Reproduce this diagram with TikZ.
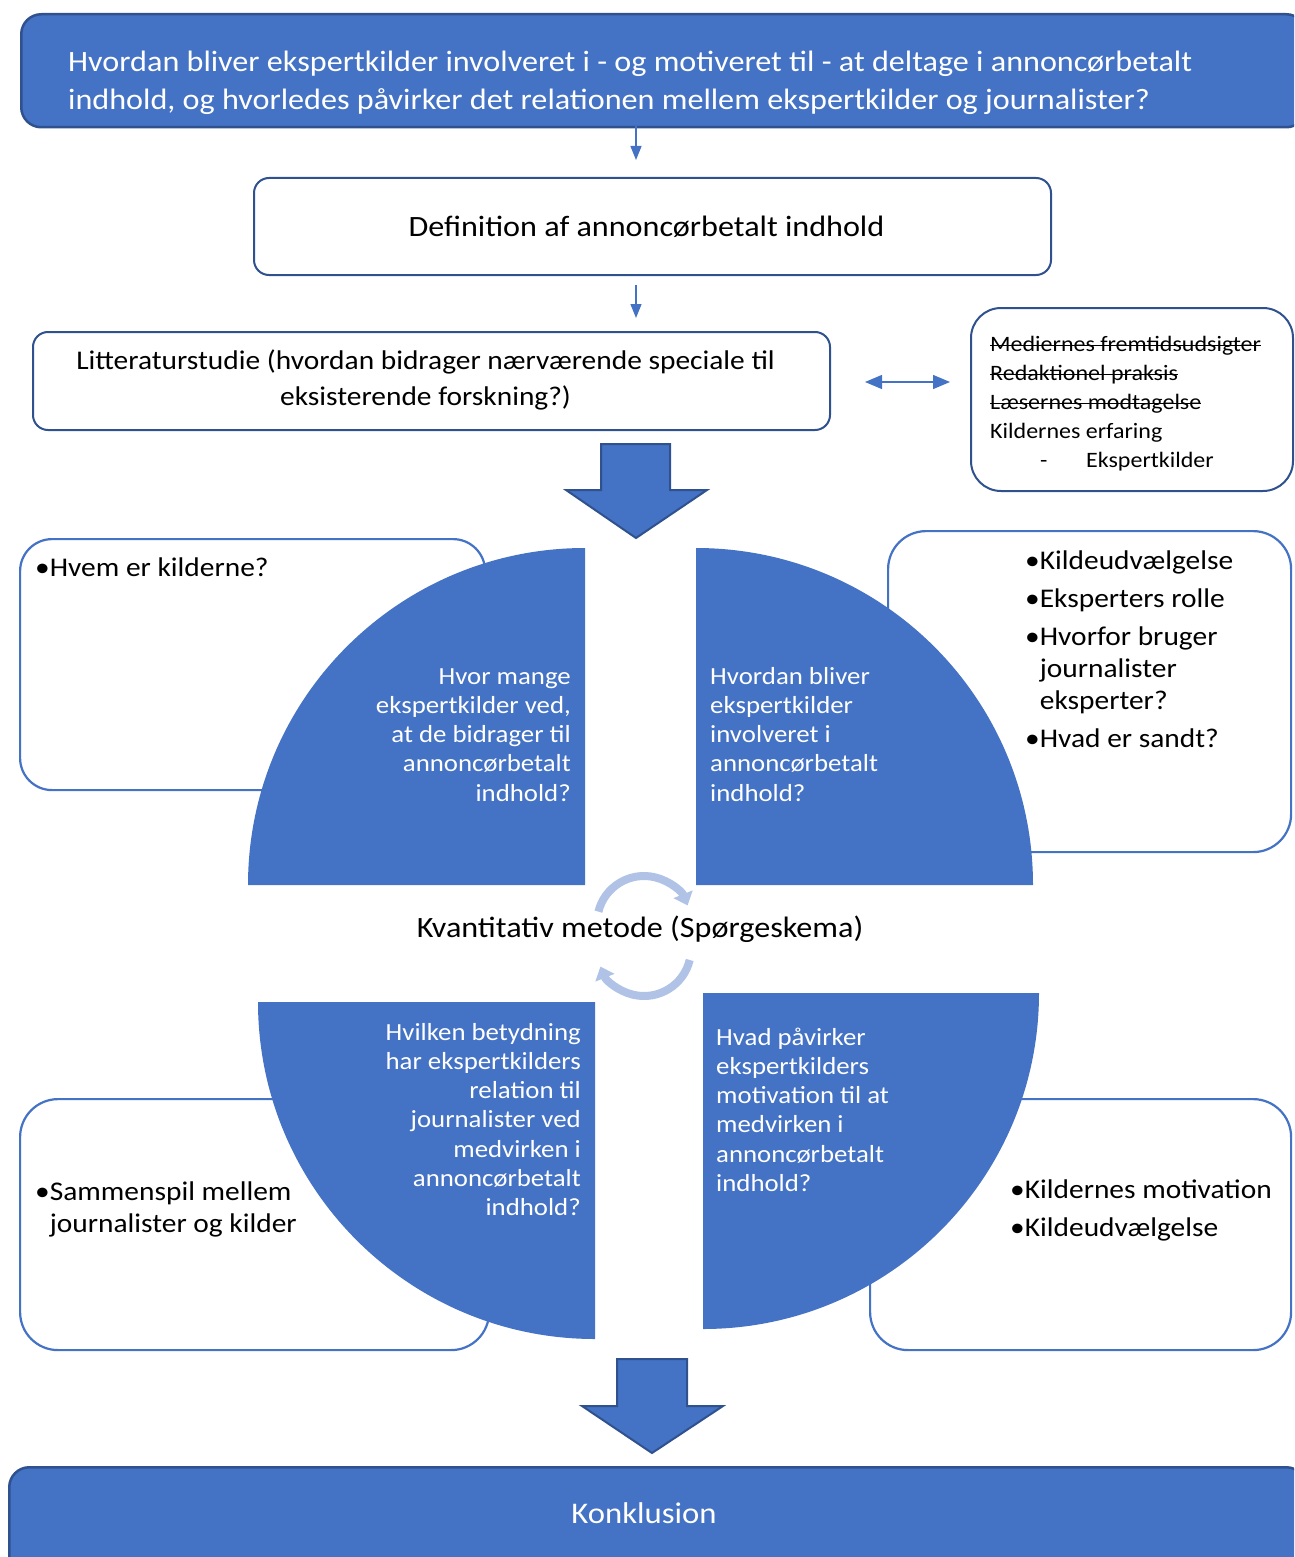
\documentclass[tikz,border=0pt]{standalone}
\usepackage{fontspec}
\setmainfont{Carlito}[FakeStretch=1.09]
\usetikzlibrary{arrows.meta}
\definecolor{ablue}{HTML}{4472C4}
\definecolor{dblue}{HTML}{2F528F}
\definecolor{lblue}{HTML}{B0C2E6}
\newcommand{\fsz}[2]{\fontsize{#1}{#2}\selectfont}
\newlength{\strkw}
\newcommand{\strk}[1]{\settowidth{\strkw}{#1}\rlap{\rule[5pt]{\strkw}{1.6pt}}#1}
\begin{document}
\begin{tikzpicture}[x=1pt,y=1pt,
  darkbox/.style={draw=dblue, line width=2pt, fill=white, rounded corners=15pt, inner sep=0pt, anchor=north west},
  bluebox/.style={draw=dblue, line width=2.5pt, fill=ablue, rounded corners=20pt, inner sep=0pt, anchor=north west},
  topicbox/.style={draw=ablue, line width=2.2pt, fill=white, rounded corners=38pt, inner sep=0pt, anchor=north west},
  quarter/.style={fill=ablue},
  txt/.style={inner sep=0pt, text=black},
  wtxt/.style={inner sep=0pt, text=white},
  thinarr/.style={draw=ablue, line width=1.3pt, -{Triangle[width=11pt,length=14pt]}},
  blockarr/.style={fill=ablue, draw=dblue, line width=2pt, line join=miter},
  cyc/.style={draw=lblue, line width=8pt, -{Triangle[width=20pt,length=12pt]}}
]
\useasboundingbox (0,0) rectangle (1294,-1557);
\clip (0,0) rectangle (1294,-1557);

% top question box
\node[bluebox, minimum width=1285pt, minimum height=113pt] (top) at (20,-13) {};
\node[wtxt, anchor=north west, align=left, font={\fsz{29.5}{38}}] (topt) at (68,-44.4)
  {\strut Hvordan bliver ekspertkilder involveret i - og motiveret til - at deltage i annoncørbetalt\\indhold, og hvorledes påvirker det relationen mellem ekspertkilder og journalister?};

% definition
\node[darkbox, minimum width=797pt, minimum height=97pt] (def) at (253,-177) {};
\node[txt, anchor=base, font={\fsz{29.5}{36}}] (deft) at (646.5,-236) {Definition af annoncørbetalt indhold};

% literature
\node[darkbox, minimum width=797pt, minimum height=98pt] (lit) at (32,-331) {};
\node[txt, anchor=north, align=center, font={\fsz{27}{36}}] (litt) at (425.5,-343.8)
  {\strut Litteraturstudie (hvordan bidrager nærværende speciale til\\eksisterende forskning?)};

% strike box
\node[darkbox, rounded corners=30pt, minimum width=322pt, minimum height=183pt] (strk) at (970,-307) {};
\node[txt, anchor=north west, align=left, font={\fsz{22}{29}}] (strkt) at (990,-330.7)
  {\strut\strk{Mediernes fremtidsudsigter}\\\strk{Redaktionel praksis}\\\strk{Læsernes modtagelse}\\Kildernes erfaring\\\makebox[96pt][l]{\hspace*{50pt}-}Ekspertkilder};

% connectors
\coordinate (a1s) at (636,-126);
\coordinate (a1e) at (636,-160);
\draw[thinarr] (a1s) -- (a1e);
\coordinate (a2s) at (636,-285);
\coordinate (a2e) at (636,-318);
\draw[thinarr] (a2s) -- (a2e);
\coordinate (d1) at (865,-382);
\coordinate (d2) at (950,-382);
\draw[draw=ablue, line width=1.3pt, {Triangle[width=14pt,length=17pt]}-{Triangle[width=14pt,length=17pt]}] (d1) -- (d2);

% block arrow 1
\filldraw[blockarr] (601,-444) -- (670,-444) -- (670,-490) -- (707,-490) -- (636,-538) -- (566,-490) -- (601,-490) -- cycle;

% topic boxes
\node[topicbox, rounded corners=32pt, minimum width=465pt, minimum height=251pt] (tl) at (19,-538) {};
\node[topicbox, minimum width=403pt, minimum height=321pt] (tr) at (887,-530) {};
\node[topicbox, minimum width=469pt, minimum height=251pt] (bl) at (19,-1098) {};
\node[topicbox, minimum width=421pt, minimum height=251pt] (br) at (869,-1098) {};

% quarters
\fill[quarter] (585,-885) -- (585,-548) arc[start angle=90, end angle=180, radius=337] -- cycle;
\fill[quarter] (696,-885) -- (1033,-885) arc[start angle=0, end angle=90, radius=337] -- cycle;
\fill[quarter] (595,-1002) -- (258,-1002) arc[start angle=180, end angle=270, radius=337] -- cycle;
\fill[quarter] (703,-993) -- (703,-1329) arc[start angle=270, end angle=360, radius=336] -- cycle;

% quarter texts
\node[wtxt, anchor=north east, align=right, font={\fsz{24.6}{29.2}}] (q1) at (571,-663.6)
  {\strut Hvor mange\\ekspertkilder ved,\\at de bidrager til\\annoncørbetalt\\indhold?};
\node[wtxt, anchor=north west, align=left, font={\fsz{24.6}{29.2}}] (q2) at (710,-663.6)
  {\strut Hvordan bliver\\ekspertkilder\\involveret i\\annoncørbetalt\\indhold?};
\node[wtxt, anchor=north east, align=right, font={\fsz{24.6}{29.2}}] (q3) at (581,-1019.6)
  {\strut Hvilken betydning\\har ekspertkilders\\relation til\\journalister ved\\medvirken i\\annoncørbetalt\\indhold?};
\node[wtxt, anchor=north west, align=left, font={\fsz{24.6}{29.2}}] (q4) at (716,-1024.6)
  {\strut Hvad påvirker\\ekspertkilders\\motivation til at\\medvirken i\\annoncørbetalt\\indhold?};

% topic texts
\node[txt, anchor=north west, align=left, font={\fsz{27}{32}}] (tlt) at (35,-553.6)
  {\strut •Hvem er kilderne?};
\node[txt, anchor=north west, align=left, font={\fsz{27}{32}}] (trt) at (1025,-546.6)
  {\strut •Kildeudvælgelse\\[6pt]•Eksperters rolle\\[6pt]•Hvorfor bruger\\\hphantom{•}journalister\\\hphantom{•}eksperter?\\[6pt]•Hvad er sandt?};
\node[txt, anchor=north west, align=left, font={\fsz{27}{32}}] (blt) at (35,-1177.6)
  {\strut •Sammenspil mellem\\\hphantom{•}journalister og kilder};
\node[txt, anchor=north west, align=left, font={\fsz{27}{32}}] (brt) at (1010,-1175.6)
  {\strut •Kildernes motivation\\[6pt]•Kildeudvælgelse};

% cycle arrows
\draw[cyc] (644,-923) ++(166:47) arc[start angle=166, end angle=22, radius=47];
\draw[cyc] (644,-949) ++(-13.5:47) arc[start angle=-13.5, end angle=-158, radius=47];

% center label
\node[txt, anchor=base, font={\fsz{29.5}{34}}] (mid) at (640,-937) {Kvantitativ metode (Spørgeskema)};

% block arrow 2
\filldraw[blockarr] (617,-1359) -- (687,-1359) -- (687,-1406) -- (723,-1406) -- (652,-1453) -- (582,-1406) -- (617,-1406) -- cycle;

% conclusion
\node[bluebox, minimum width=1297pt, minimum height=110pt] (konk) at (8,-1466) {};
\node[wtxt, anchor=base, font={\fsz{30}{36}}] (konkt) at (644,-1523) {Konklusion};
\end{tikzpicture}
\end{document}
